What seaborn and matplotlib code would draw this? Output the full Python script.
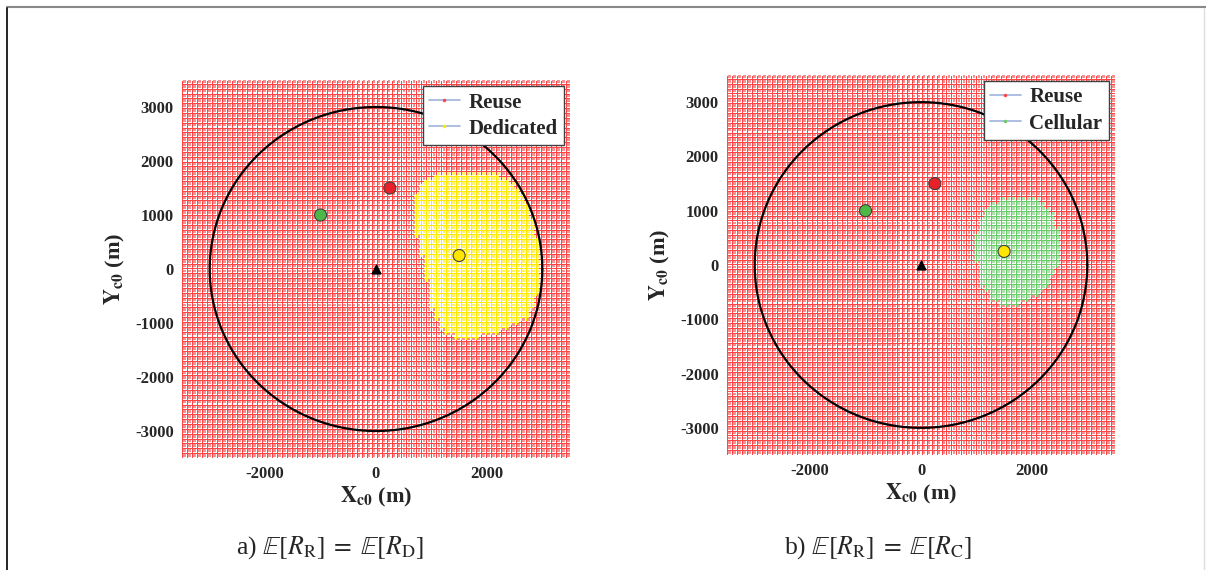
import numpy as np
import pandas as pd
import matplotlib
matplotlib.use("Agg")
import matplotlib.pyplot as plt
from matplotlib.path import Path
from matplotlib.lines import Line2D
import seaborn as sns

# Evaluation grid (m)
grid_step = 90
grid_lim = 3500

# Cell radius and node positions (m)
cell_radius = 3000
bs_xy = (0, 0)
d2d_tx = (250, 1500)      # red
cell_ue = (-1000, 1000)   # green
d2d_rx = (1500, 250)      # yellow

# Region boundaries (m)
dedicated_x = [1153, 1694, 2234, 2505, 2685, 2829, 2919, 2955, 2901, 2775, 2505, 2144,
               1694, 1369, 1153, 1009, 919, 829, 721, 667, 667, 793, 973]
dedicated_y = [1741, 1778, 1722, 1556, 1278, 907, 444, -19, -481, -852, -1037, -1185,
               -1278, -1241, -1093, -759, -296, 167, 630, 1000, 1315, 1556, 1685]
cellular_x = [1604, 1964, 2234, 2414, 2505, 2468, 2324, 2054, 1694, 1333, 1117, 1009,
              973, 1027, 1207, 1387]
cellular_y = [1252, 1252, 1105, 829, 460, 55, -313, -589, -737, -700, -460, -92,
              368, 737, 1050, 1197]

panels = [
    ("Dedicated", dedicated_x, dedicated_y, "#ffea00", "#fff170",
     r"a) $\mathbb{E}[R_{\mathrm{R}}]\;=\;\mathbb{E}[R_{\mathrm{D}}]$", 330),
    ("Cellular", cellular_x, cellular_y, "#6cc96c", "#ace2ac",
     r"b) $\mathbb{E}[R_{\mathrm{R}}]\;=\;\mathbb{E}[R_{\mathrm{C}}]$", 878),
]
reuse_line, reuse_fill = "#ff4545", "#f69292"

sns.set_theme(style="white")
plt.rcParams["font.family"] = ["Liberation Serif", "DejaVu Serif"]
plt.rcParams["mathtext.fontset"] = "stix"
plt.rcParams["axes.unicode_minus"] = False

W, H = 1206, 570
fig = plt.figure(figsize=(W / 100, H / 100), dpi=100)
axes_px = [(182, 80, 570, 458), (727, 75, 1115, 455)]

g = np.arange(-grid_lim, grid_lim + 1, grid_step)
gx, gy = np.meshgrid(g, g)
pts = np.column_stack([gx.ravel(), gy.ravel()])

for (name, bx, by, line_c, fill_c, caption, cap_x), (l, t, r, b) in zip(panels, axes_px):
    ax = fig.add_axes([l / W, 1 - b / H, (r - l) / W, (b - t) / H])
    inside = Path(np.column_stack([bx, by])).contains_points(pts)
    df = pd.DataFrame({"x": pts[:, 0], "y": pts[:, 1],
                       "mode": np.where(inside, name, "Reuse")})

    # plaid texture: crossing lines + light squares in between
    sns.scatterplot(data=df, x="x", y="y", hue="mode", marker="+", s=13, linewidth=0.6,
                    palette={"Reuse": reuse_line, name: line_c}, legend=False, ax=ax,
                    antialiased=False)
    df_mid = df.assign(x=df["x"] + grid_step / 2, y=df["y"] + grid_step / 2)
    sns.scatterplot(data=df_mid, x="x", y="y", hue="mode", marker="s", s=4, linewidth=0,
                    palette={"Reuse": reuse_fill, name: fill_c}, legend=False, ax=ax,
                    antialiased=False)

    th = np.linspace(0, 2 * np.pi, 400)
    ax.plot(cell_radius * np.cos(th), cell_radius * np.sin(th), color="black", lw=1.6)

    nodes = pd.DataFrame({"x": [d2d_tx[0], cell_ue[0], d2d_rx[0]],
                          "y": [d2d_tx[1], cell_ue[1], d2d_rx[1]],
                          "node": ["tx", "ue", "rx"]})
    sns.scatterplot(data=nodes, x="x", y="y", hue="node",
                    palette={"tx": "#e8202a", "ue": "#4db848", "rx": "#ffe600"},
                    s=75, edgecolor="#404040", linewidth=0.8, legend=False, ax=ax, zorder=5)
    ax.scatter([bs_xy[0]], [bs_xy[1]], marker="^", s=40, color="black", zorder=5)

    ax.set_xlim(-grid_lim, grid_lim)
    ax.set_ylim(-grid_lim, grid_lim)
    ax.set_xticks([-2000, 0, 2000])
    ax.set_yticks([-3000, -2000, -1000, 0, 1000, 2000, 3000])
    ax.tick_params(length=0, labelsize=12, pad=6)
    for lab in ax.get_xticklabels() + ax.get_yticklabels():
        lab.set_fontweight("bold")
    for s in ax.spines.values():
        s.set_visible(False)
    ax.set_xlabel(r"$\mathbf{X}_{\mathbf{c0}}$ (m)", fontsize=16, fontweight="bold", labelpad=2)
    ax.set_ylabel(r"$\mathbf{Y}_{\mathbf{c0}}$ (m)", fontsize=16, fontweight="bold", labelpad=6)

    handles = [
        Line2D([], [], color="#9fb3dd", lw=1.2, marker=".", markersize=3,
               markerfacecolor=reuse_line, markeredgecolor=reuse_line, label="Reuse"),
        Line2D([], [], color="#9fb3dd", lw=1.2, marker=".", markersize=3,
               markerfacecolor=line_c, markeredgecolor=line_c, label=name),
    ]
    leg = ax.legend(handles=handles, loc="upper right", fancybox=False, framealpha=1,
                    edgecolor="#404040", prop={"weight": "bold", "size": 15},
                    borderpad=0.3, labelspacing=0.3, handlelength=1.5, handletextpad=0.4,
                    borderaxespad=0.3)
    leg.get_frame().set_linewidth(1.0)

    fig.text(cap_x / W, 1 - 548 / H, caption, ha="center", va="center", fontsize=18.5)

# outer frame lines
fig.add_artist(Line2D([7 / W, 1], [1 - 7 / H, 1 - 7 / H], color="#888888", lw=1.5))
fig.add_artist(Line2D([7 / W, 7 / W], [0, 1 - 8 / H], color="black", lw=1.2))
fig.add_artist(Line2D([1204 / W, 1204 / W], [0, 1 - 8 / H], color="#dddddd", lw=1.0))

fig.savefig("out.png", dpi=100)
